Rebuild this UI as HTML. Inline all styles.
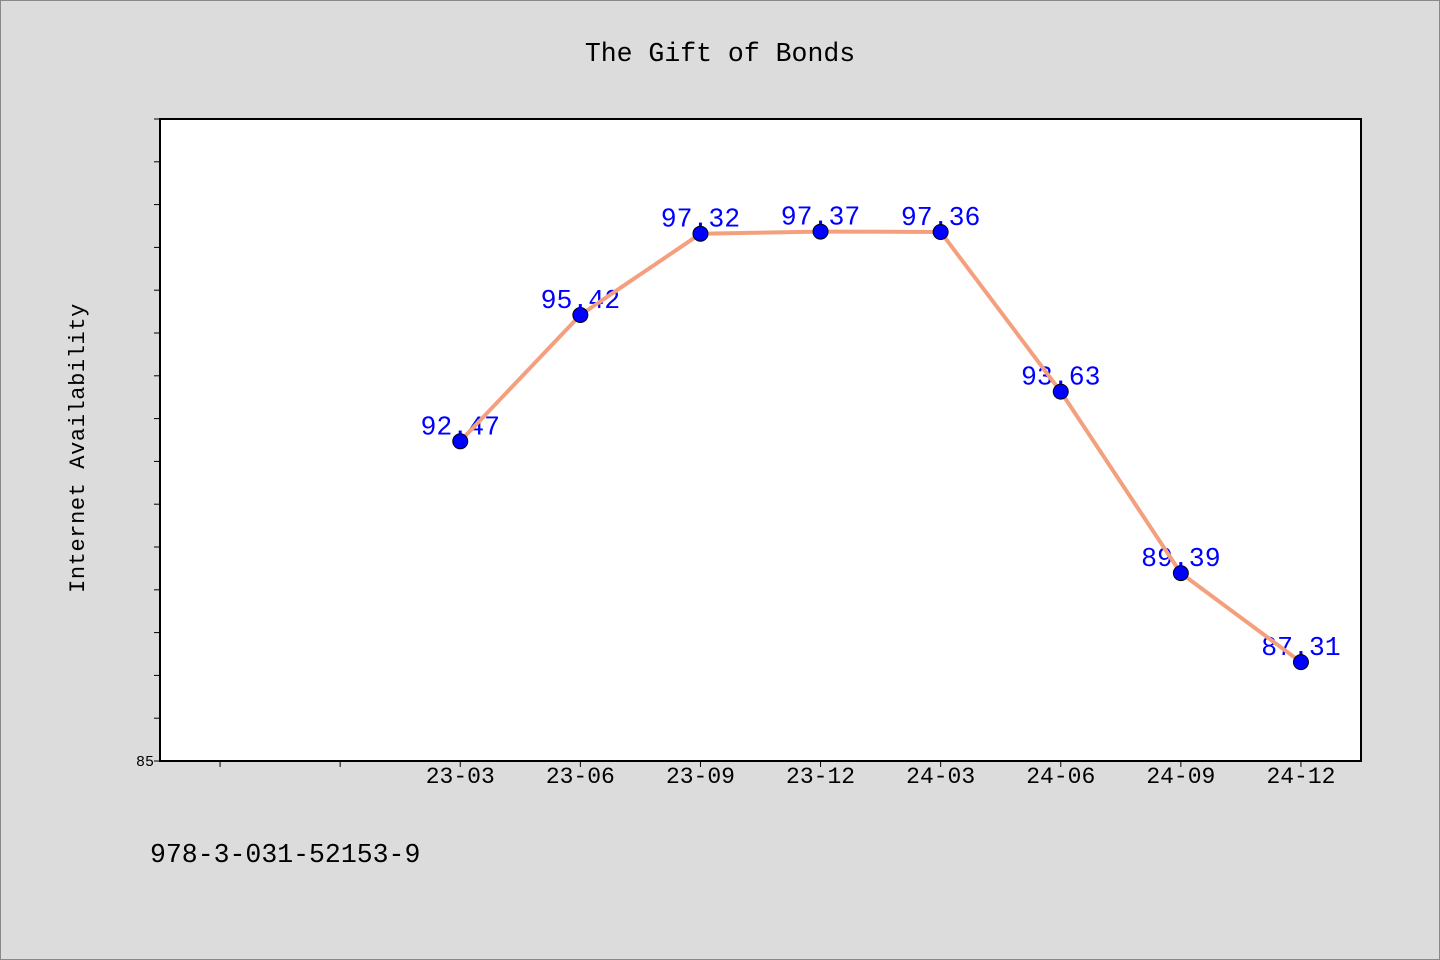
<!DOCTYPE html>
<html><head><meta charset="utf-8"><style>
html,body{margin:0;padding:0;background:#dcdcdc;}
svg{display:block;font-family:"Liberation Mono",monospace;}
</style></head><body>
<svg id="chart" width="1440" height="960">
<rect x="0.5" y="0.5" width="1439" height="959" fill="#dcdcdc" stroke="#888"/>
<text x="720" y="61" text-anchor="middle" font-size="26.5" fill="#000">The Gift of Bonds</text>
<rect x="160" y="119" width="1201" height="642" fill="#fff" stroke="#000" stroke-width="2"/>
<text transform="translate(84,448) rotate(-90)" text-anchor="middle" font-size="22" letter-spacing="0.6" fill="#000">Internet Availability</text>
<text x="150" y="862" font-size="26.5" fill="#000">978-3-031-52153-9</text>
<g id="axes"></g><g id="series"></g>
</svg>
<script>
const categories=["","","23-03","23-06","23-09","23-12","24-03","24-06","24-09","24-12"];
const values=[null,null,92.47,95.42,97.32,97.37,97.36,93.63,89.39,87.31];
const valueLabels=["","","92.47","95.42","97.32","97.37","97.36","93.63","89.39","87.31"];
const yTickLabels=["85"];
const yMin=85,yMax=100;
const L=160,R=1361,T=119,B=761;
const NS="http://www.w3.org/2000/svg";
const band=(R-L)/categories.length;
function xScale(i){return L+band*(i+0.5);}
function yScale(v){return B-(v-yMin)/(yMax-yMin)*(B-T);}
function mk(tag,attrs,parent){const e=document.createElementNS(NS,tag);for(const k in attrs)e.setAttribute(k,attrs[k]);parent.appendChild(e);return e;}
const axes=document.getElementById('axes'),series=document.getElementById('series');
for(let v=yMin;v<=yMax;v++){
  const t=mk('line',{x1:L-6,x2:L,y1:yScale(v),y2:yScale(v),stroke:'#000','stroke-width':1},axes);
  
  
}
yTickLabels.forEach(s=>{
  const t=mk('text',{x:L-6,y:yScale(+s)+5,'text-anchor':'end','font-size':15,fill:'#000'},axes);
  t.textContent=s;
  
  
});
categories.forEach((c,i)=>{
  const t=mk('line',{x1:xScale(i),x2:xScale(i),y1:B,y2:B+6,stroke:'#000','stroke-width':1},axes);
  
  
  if(c){
    const l=mk('text',{x:xScale(i),y:B+22,'text-anchor':'middle','font-size':23,fill:'#000'},axes);
    l.textContent=c;
    
    
  }
});
values.forEach((v,i)=>{
  if(v==null)return;
  const t=mk('text',{x:xScale(i),y:yScale(v)-7,'text-anchor':'middle','font-size':26.5,fill:'#0000ff'},series);
  t.textContent=valueLabels[i];
  
  
});
const pts=values.map((v,i)=>v==null?null:xScale(i)+','+yScale(v)).filter(p=>p);
const line=mk('polyline',{points:pts.join(' '),fill:'none',stroke:'#f4a07e','stroke-width':4,'stroke-linejoin':'round'},series);


values.forEach((v,i)=>{
  if(v==null)return;
  const c=mk('circle',{cx:xScale(i),cy:yScale(v),r:7.5,fill:'#0000ff',stroke:'#000','stroke-width':1},series);
  
  
});
</script>
</body></html>
